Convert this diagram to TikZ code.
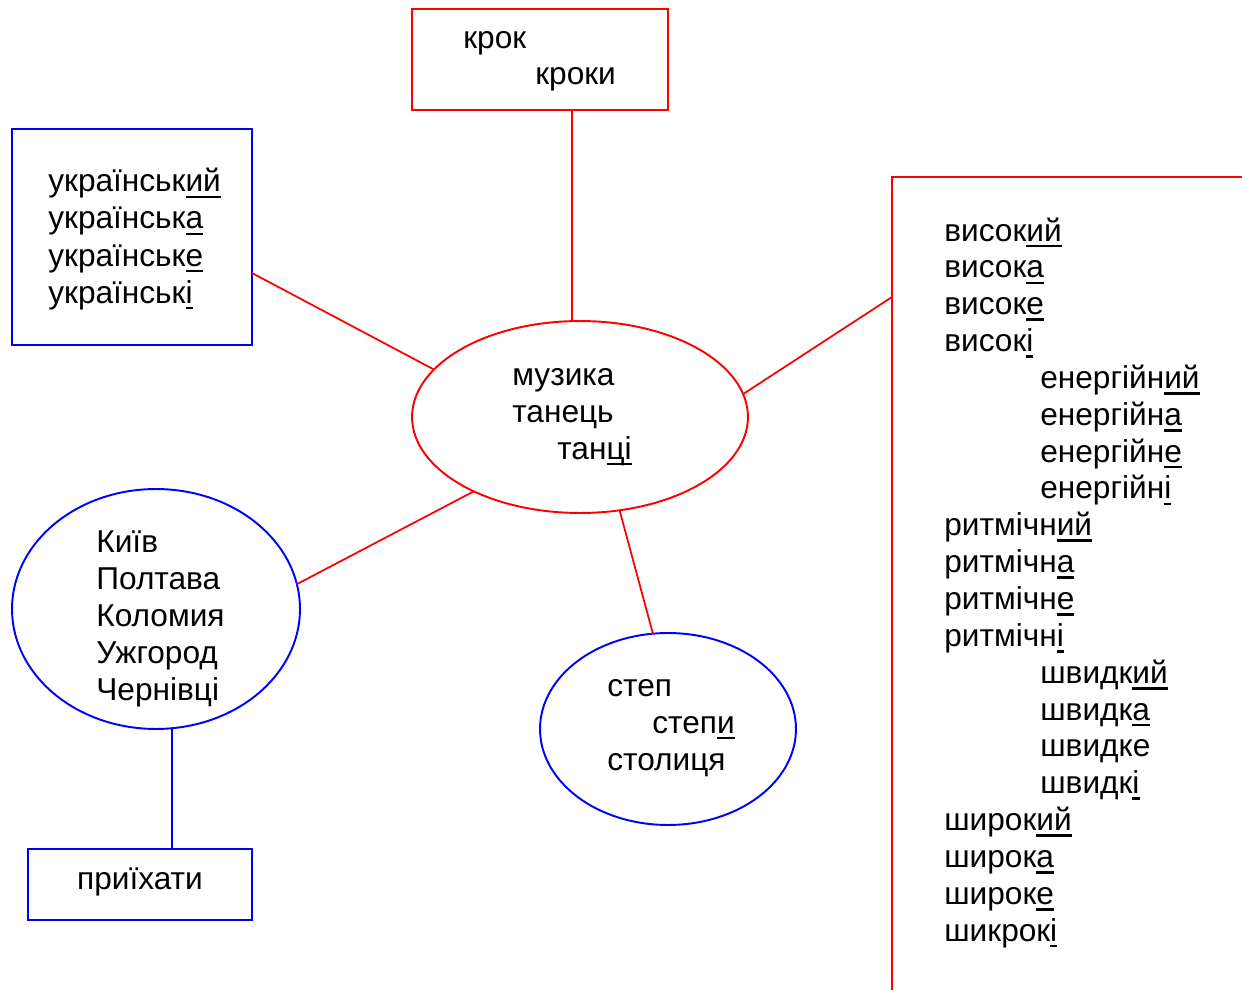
\documentclass[tikz,border=0pt]{standalone}
\usepackage{fontspec}
\setmainfont{Liberation Sans}
\usetikzlibrary{shapes.geometric}
\newcommand\udl[1]{\setbox0\hbox{#1}\rlap{\rule[-3.6pt]{\wd0}{1.5pt}}\box0}
\tikzset{
  word/.style={anchor=base west,inner sep=0pt,font=\fontsize{18pt}{20pt}\selectfont},
  redbox/.style={draw=red,line width=1.1pt,inner sep=0pt,outer sep=0pt},
  bluebox/.style={draw=blue,line width=1.1pt,inner sep=0pt,outer sep=0pt},
  link/.style={line width=1pt}
}

\begin{document}
\begin{tikzpicture}[x=0.02cm,y=-0.02cm]
\useasboundingbox (0,0) rectangle (1242,990);
\clip (0,0) rectangle (1242,990);

\node [redbox,minimum width=5.12cm,minimum height=2.02cm] (krok) at (540,59.5) {};
\node [bluebox,minimum width=4.8cm,minimum height=4.32cm] (ukr) at (132,237) {};
\node [redbox,ellipse,minimum width=6.72cm,minimum height=3.84cm] (muz) at (580,417) {};
\node [redbox,anchor=north west,minimum width=8cm,minimum height=18cm] (adj) at (892,177) {};
\node [bluebox,ellipse,minimum width=5.76cm,minimum height=4.8cm] (cities) at (156,609) {};
\node [bluebox,minimum width=4.48cm,minimum height=1.42cm] (pryi) at (140,884.5) {};
\node [bluebox,ellipse,minimum width=5.12cm,minimum height=3.84cm] (step) at (668,729) {};

\path
      (463,49) node [word] (krok1) {крок}
    ++(72,36)  node [word] (krok2) {кроки};
\foreach \e [count=\i] in {ий,а,е,і}
  \node [word] (ukr\i) at (48,{155+37*\i}) {українськ\udl{\e}};
\path
      (512,385) node [word] (muz1) {музика}
    ++(0,37)    node [word] (muz2) {танець}
    ++(45,37)   node [word] (muz3) {тан\udl{ці}};
\foreach \w [count=\i] in {Київ,Полтава,Коломия,Ужгород,Чернівці}
  \node [word] (cities\i) at (96,{515+37*\i}) {\w};
\path
      (607,696) node [word] (step1) {степ}
    ++(45,37)   node [word] (step2) {степ\udl{и}}
    ++(-45,37)  node [word] (step3) {столиця};
\node [word,anchor=base] (pryi1) at (140,889) {приїхати};

\foreach \dx/\w [count=\i from 0] in {
    0/висок\udl{ий},0/висок\udl{а},0/висок\udl{е},0/висок\udl{і},
    96/енергійн\udl{ий},96/енергійн\udl{а},96/енергійн\udl{е},96/енергійн\udl{і},
    0/ритмічн\udl{ий},0/ритмічн\udl{а},0/ритмічн\udl{е},0/ритмічн\udl{і},
    96/швидк\udl{ий},96/швидк\udl{а},96/швидке,96/швидк\udl{і},
    0/широк\udl{ий},0/широк\udl{а},0/широк\udl{е},0/шикрок\udl{і}}
  \node [word] (adj\i) at ({944+\dx},{241+36.85*\i}) {\w};

\draw [link,red]
    (krok.south -| 572,0) -- (muz.north -| 572,0)
    (ukr.east |- 0,273)   -- (muz.162)
    (muz.8)               -- (adj.west |- 0,297)
    (cities.10)           -- (muz.215)
    (muz.293)             -- (step.99);
\draw [link,blue]
    (cities.south -| 172,0) -- (pryi.north -| 172,0);
\end{tikzpicture}
\end{document}
